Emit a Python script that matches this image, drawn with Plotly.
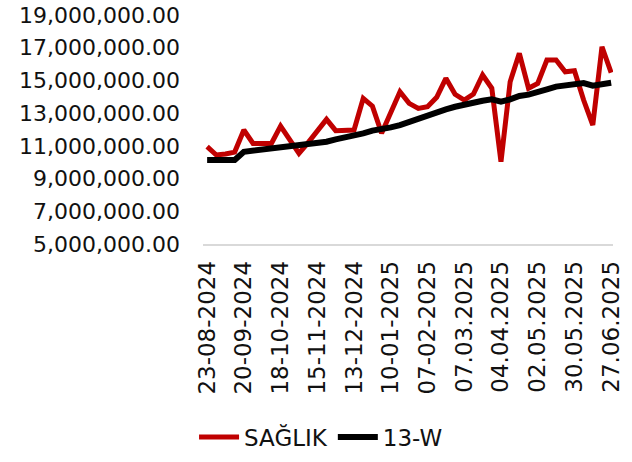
import plotly.graph_objects as go

weeks = [
    "23-08-2024", "30-08-2024", "06-09-2024", "13-09-2024", "20-09-2024",
    "27-09-2024", "04-10-2024", "11-10-2024", "18-10-2024", "25-10-2024",
    "01-11-2024", "08-11-2024", "15-11-2024", "22-11-2024", "29-11-2024",
    "06-12-2024", "13-12-2024", "20-12-2024", "27-12-2024", "03-01-2025",
    "10-01-2025", "17-01-2025", "24-01-2025", "31-01-2025", "07-02-2025",
    "14-02-2025", "21-02-2025", "28-02-2025", "07.03.2025", "14.03.2025",
    "21.03.2025", "28.03.2025", "04.04.2025", "11.04.2025", "18.04.2025",
    "25.04.2025", "02.05.2025", "09.05.2025", "16.05.2025", "23.05.2025",
    "30.05.2025", "06.06.2025", "13.06.2025", "20.06.2025", "27.06.2025",
]

saglik = [
    10.95, 10.44, 10.50, 10.62, 11.97, 11.15, 11.15, 11.15, 12.21, 11.38,
    10.54, 11.20, 11.87, 12.62, 11.93, 11.93, 11.97, 13.90, 13.43, 11.77,
    12.99, 14.31, 13.60, 13.29, 13.39, 13.97, 15.13, 14.15, 13.80, 14.17,
    15.33, 14.52, 10.03, 14.92, 16.66, 14.52, 14.82, 16.25, 16.25, 15.53,
    15.59, 13.80, 12.27, 17.06, 15.47,
]
saglik = [v * 1e6 for v in saglik]

w13 = [
    10.13, 10.13, 10.13, 10.13, 10.64, 10.70, 10.79, 10.85, 10.91, 10.95,
    11.01, 11.09, 11.15, 11.25, 11.40, 11.50, 11.60, 11.76, 11.93, 12.01,
    12.13, 12.27, 12.48, 12.66, 12.84, 13.03, 13.23, 13.39, 13.54, 13.66,
    13.76, 13.84, 13.70, 13.84, 14.05, 14.13, 14.25, 14.45, 14.62, 14.68,
    14.76, 14.84, 14.68, 14.80, 14.86,
]
w13 = [v * 1e6 for v in w13]

tick_labels = weeks[::4]
y_ticks = [5e6, 7e6, 9e6, 11e6, 13e6, 15e6, 17e6, 19e6]

FONT = "DejaVu Sans"

fig = go.Figure()
fig.add_trace(go.Scatter(x=weeks, y=saglik, mode="lines", name="SAĞLIK",
                         line=dict(color="#C00000", width=5)))
fig.add_trace(go.Scatter(x=weeks, y=w13, mode="lines", name="13-W",
                         line=dict(color="#000000", width=6)))

fig.update_layout(
    width=632, height=462,
    margin=dict(l=203, r=19, t=15, b=218),
    paper_bgcolor="white", plot_bgcolor="white",
    font=dict(family=FONT, size=23, color="#111111"),
    showlegend=True,
    legend=dict(orientation="h", xref="container", yref="container",
                x=0.508, y=0.054, xanchor="center", yanchor="middle",
                font=dict(size=23), itemwidth=40),
)
fig.update_xaxes(type="category", range=[-0.45, 44.2], automargin=False,
                 tickmode="array", tickvals=tick_labels, ticktext=tick_labels,
                 tickangle=-90, showgrid=False, showline=True,
                 linecolor="#d9d9d9", linewidth=1.5, ticks="",
                 ticklabelstandoff=6, ticklabeloverflow="allow")
fig.update_yaxes(range=[5e6, 19e6], tickmode="array", tickvals=y_ticks,
                 automargin=False, ticklabeloverflow="allow",
                 tickfont=dict(size=22),
                 tickformat=",.2f", showgrid=False, zeroline=False,
                 showline=False, ticks="", ticklabelstandoff=22)

fig.write_html("out.html", config={"displayModeBar": False},
               post_script="document.body.style.margin='0';")
